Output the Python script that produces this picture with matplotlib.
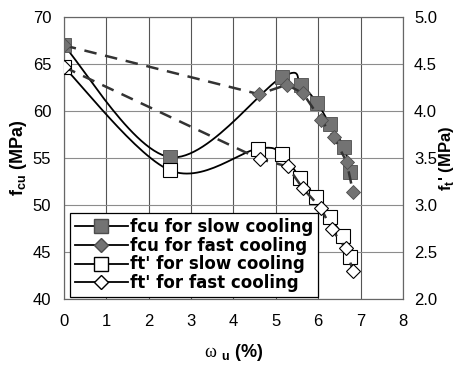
import numpy as np
import matplotlib.pyplot as plt

plt.rcParams['font.family'] = ['Liberation Sans', 'DejaVu Sans']
plt.rcParams['mathtext.fontset'] = 'custom'
plt.rcParams['mathtext.rm'] = 'Liberation Serif'
plt.rcParams['mathtext.bf'] = 'Liberation Sans:bold'

# fcu (MPa), left axis
x_fcu_slow = [0, 2.5, 5.14, 5.59, 5.97, 6.27, 6.6, 6.75]
fcu_slow = [67.0, 55.1, 63.6, 62.8, 60.9, 58.6, 56.2, 53.5]
x_fcu_fast = [0, 4.6, 5.26, 5.64, 6.06, 6.37, 6.67, 6.82]
fcu_fast = [67.0, 61.8, 62.8, 61.9, 59.1, 57.2, 54.6, 51.4]

# ft' (MPa), right axis
x_ft_slow = [0, 2.5, 4.58, 5.14, 5.57, 5.94, 6.27, 6.58, 6.75]
ft_slow = [4.47, 3.37, 3.60, 3.54, 3.29, 3.09, 2.87, 2.67, 2.45]
x_ft_fast = [0, 4.62, 5.28, 5.63, 6.06, 6.32, 6.65, 6.82]
ft_fast = [4.47, 3.49, 3.41, 3.18, 2.97, 2.74, 2.54, 2.30]


def smooth(x, y, n=30):
    # Catmull-Rom style smoothing, like the spreadsheet "smoothed line"
    p = np.column_stack([x, y]).astype(float)
    p = np.vstack([p[0], p, p[-1]])
    out = []
    for i in range(1, len(p) - 2):
        p0, p1, p2, p3 = p[i - 1], p[i], p[i + 1], p[i + 2]
        t = np.linspace(0, 1, n)[:, None]
        c = 0.5 * ((2 * p1) + (-p0 + p2) * t + (2 * p0 - 5 * p1 + 4 * p2 - p3) * t ** 2
                   + (-p0 + 3 * p1 - 3 * p2 + p3) * t ** 3)
        out.append(c)
    c = np.vstack(out)
    return c[:, 0], c[:, 1]


fig = plt.figure(figsize=(4.59, 3.65), dpi=100)
ax = fig.add_axes([0.139, 0.181, 0.739, 0.772])
ax2 = ax.twinx()

gray = '#737373'
edge = '#4d4d4d'
dash = (0, (5, 3.5))

sx, sy = smooth(x_fcu_slow, fcu_slow)
ax.plot(sx, sy, color='black', lw=1.3, zorder=3)
ax.plot(x_fcu_slow, fcu_slow, ls='none', marker='s', ms=10, mfc=gray,
        mec=edge, mew=0.6, zorder=4)
ax.plot(x_fcu_fast, fcu_fast, color='#333333', lw=1.8, ls=dash,
        marker='D', ms=7.5, mfc=gray, mec=edge, mew=0.6, zorder=4)

sx, sy = smooth(x_ft_slow, ft_slow)
ax2.plot(sx, sy, color='black', lw=1.3, zorder=3)
ax2.plot(x_ft_slow, ft_slow, ls='none', marker='s', ms=10, mfc='white',
         mec='black', mew=0.8, zorder=4)
ax2.plot(x_ft_fast, ft_fast, color='#333333', lw=1.8, ls=dash,
         marker='D', ms=7.5, mfc='white', mec='black', mew=0.8, zorder=4)

ax.set_xlim(0, 8)
ax.set_ylim(40, 70)
ax2.set_ylim(2.0, 5.0)
ax.set_xticks(range(0, 9))
ax.set_yticks(range(40, 71, 5))
ax2.set_yticks(np.arange(2.0, 5.01, 0.5))
ax2.set_yticklabels([f'{v:.1f}' for v in np.arange(2.0, 5.01, 0.5)])

ax.grid(True, axis='x', color='#555555', lw=0.8)
ax.grid(True, axis='y', color='#8c8c8c', lw=0.8)
ax.tick_params(axis='y', length=0, labelsize=12, pad=9)
ax.tick_params(axis='x', length=0, labelsize=12, pad=11)
ax2.tick_params(length=0, labelsize=12, pad=8)
for a in (ax, ax2):
    for s in a.spines.values():
        s.set_color('#666666')
        s.set_linewidth(0.8)

ax.set_ylabel(r'f$_{\mathbf{cu}}$ (MPa)', fontsize=13, fontweight='bold', labelpad=3)
ax2.set_ylabel(r"f$_{\mathbf{t}}$' (MPa)", fontsize=12, fontweight='bold', labelpad=0)
ax.set_xlabel(r'$\mathrm{\omega}$ $_{\mathbf{u}}$ (%)', fontsize=13, fontweight='bold', labelpad=9)

handles = [
    plt.Line2D([], [], color='black', lw=1.3, marker='s', ms=10, mfc=gray, mec=edge),
    plt.Line2D([], [], color='black', lw=1.3, marker='D', ms=7.5, mfc=gray, mec=edge),
    plt.Line2D([], [], color='black', lw=1.3, marker='s', ms=10, mfc='white', mec='black'),
    plt.Line2D([], [], color='black', lw=1.3, marker='D', ms=7.5, mfc='white', mec='black'),
]
labels = ['fcu for slow cooling', 'fcu for fast cooling',
          "ft' for slow cooling", "ft' for fast cooling"]
leg = ax2.legend(handles, labels, loc='lower left', bbox_to_anchor=(0.012, 0.0),
                 prop={'family': 'DejaVu Sans', 'weight': 'bold', 'size': 12},
                 frameon=True, fancybox=False,
                 edgecolor='black', framealpha=1, borderpad=0.3, labelspacing=0.05,
                 handlelength=3.2, handletextpad=0.1, borderaxespad=0.1)
leg.get_frame().set_linewidth(0.9)

fig.savefig('out.png', dpi=100)
